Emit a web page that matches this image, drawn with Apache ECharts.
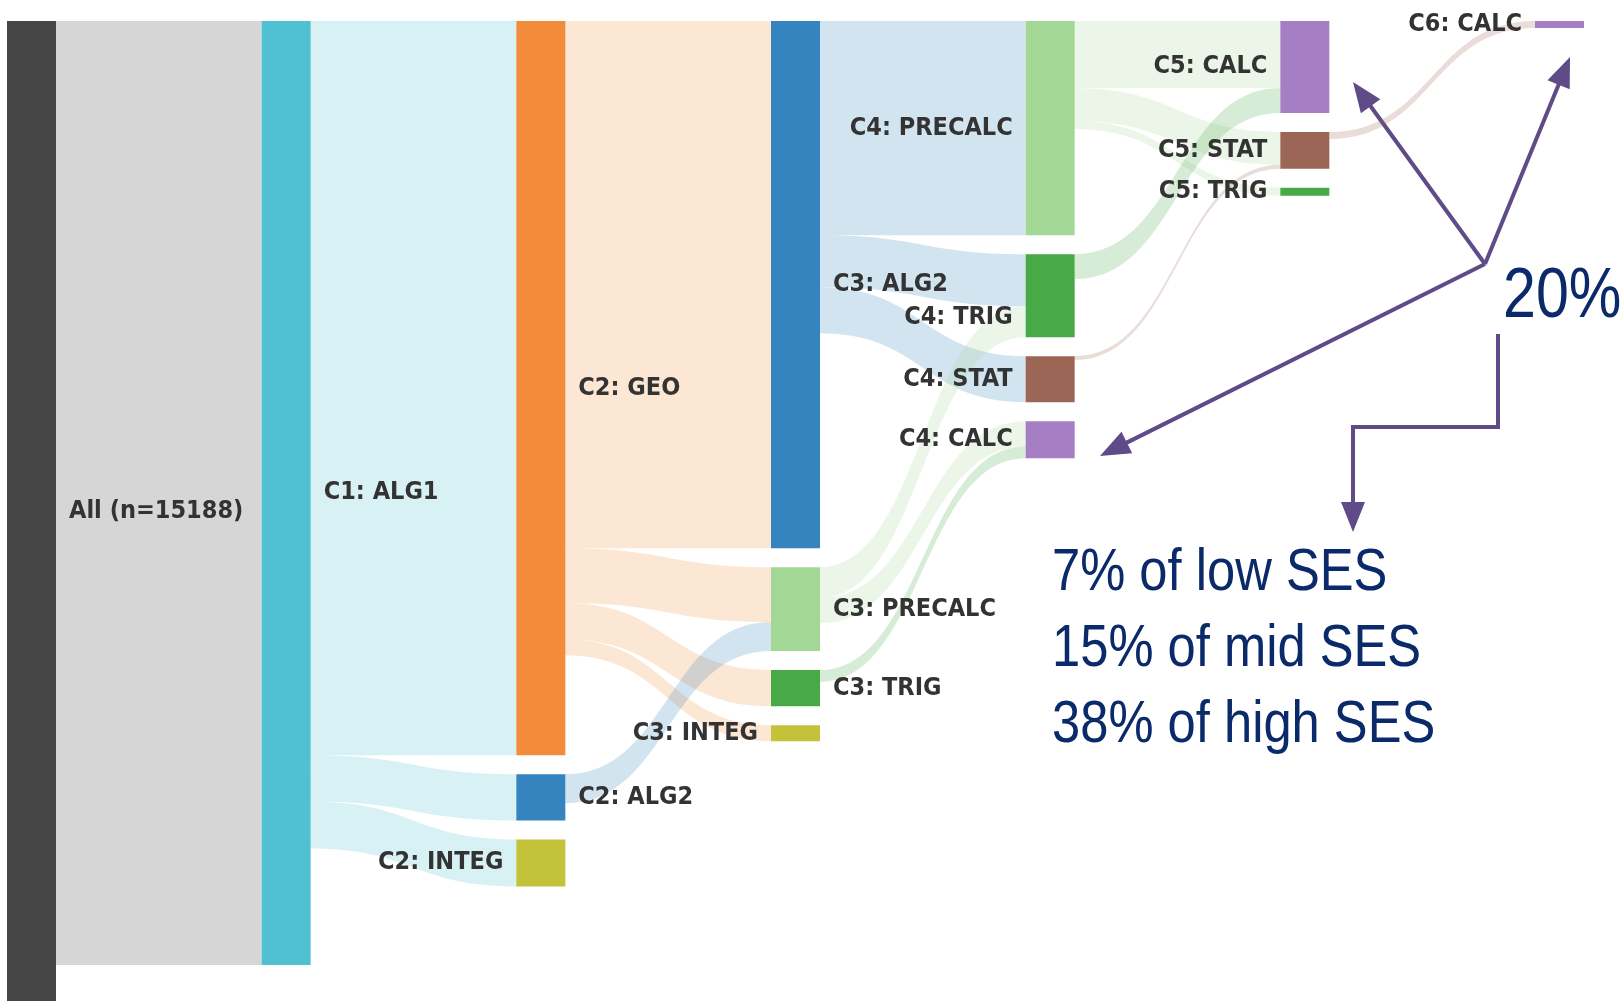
<!DOCTYPE html>
<html>
<head>
<meta charset="utf-8">
<script src="https://cdn.jsdelivr.net/npm/echarts@6/dist/echarts.min.js"></script>
<style>
  html, body { margin: 0; padding: 0; background: #ffffff; }
  #chart { width: 1623px; height: 1001px; }
</style>
</head>
<body>
<div id="chart"></div>
<script>
// ---------- data ----------
const cohortSize = 15188;
const nodeNames = [
  'All (n=15188)',
  'C1: ALG1',
  'C2: GEO', 'C2: ALG2', 'C2: INTEG',
  'C3: ALG2', 'C3: PRECALC', 'C3: TRIG', 'C3: INTEG',
  'C4: PRECALC', 'C4: TRIG', 'C4: STAT', 'C4: CALC',
  'C5: CALC', 'C5: STAT', 'C5: TRIG',
  'C6: CALC'
];
const linkSources = [
  'All (n=15188)',
  'C1: ALG1', 'C1: ALG1', 'C1: ALG1',
  'C2: GEO', 'C2: GEO', 'C2: GEO', 'C2: GEO', 'C2: ALG2',
  'C3: ALG2', 'C3: ALG2', 'C3: ALG2', 'C3: PRECALC', 'C3: PRECALC', 'C3: TRIG',
  'C4: PRECALC', 'C4: PRECALC', 'C4: PRECALC', 'C4: TRIG', 'C4: STAT',
  'C5: STAT'
];
const linkTargets = [
  'C1: ALG1',
  'C2: GEO', 'C2: ALG2', 'C2: INTEG',
  'C3: ALG2', 'C3: PRECALC', 'C3: TRIG', 'C3: INTEG', 'C3: PRECALC',
  'C4: PRECALC', 'C4: TRIG', 'C4: STAT', 'C4: TRIG', 'C4: CALC', 'C4: CALC',
  'C5: CALC', 'C5: STAT', 'C5: TRIG', 'C5: CALC', 'C5: STAT',
  'C6: CALC'
];
const linkValues = [
  14630,
  11380, 715, 730,
  8170, 850, 560, 250, 450,
  3320, 805, 715, 480, 390, 185,
  1040, 510, 125, 385, 60,
  110
];
const headline = '20%';
const sesLines = ['7% of low SES', '15% of mid SES', '38% of high SES'];

// ---------- styles ----------
const subjectColors = {
  All: '#454545',
  ALG1: '#4fc1d2',
  GEO: '#f28b3a',
  ALG2: '#3583bf',
  INTEG: '#c4c23a',
  PRECALC: '#a3d796',
  TRIG: '#48a947',
  STAT: '#9c6657',
  CALC: '#a67ec3'
};
const leftLabelNodes = ['C2: INTEG', 'C3: INTEG', 'C4: PRECALC', 'C4: TRIG', 'C4: STAT', 'C4: CALC',
  'C5: CALC', 'C5: STAT', 'C5: TRIG', 'C6: CALC'];
const labelShiftDown = { 'C4: TRIG': 22 };

function subjectOf(name) {
  const i = name.indexOf(': ');
  return i < 0 ? 'All' : name.slice(i + 2);
}

const nodes = nodeNames.map(function (name, i) {
  const item = {
    name: name,
    itemStyle: { color: subjectColors[subjectOf(name)], borderWidth: 0 },
    label: {
      position: leftLabelNodes.indexOf(name) >= 0 ? 'left' : 'right',
      offset: [0, labelShiftDown[name] || 0]
    }
  };
  if (i === 0) item.value = cohortSize;
  return item;
});
const links = linkValues.map(function (v, i) {
  return { source: linkSources[i], target: linkTargets[i], value: v };
});

// ---------- annotation helpers ----------
const ARROW = '#5e4b87';
const NAVY = '#0a2a6a';
function arrowHead(x0, y0, x1, y1) {
  const dx = x1 - x0, dy = y1 - y0;
  const len = Math.sqrt(dx * dx + dy * dy);
  const ux = dx / len, uy = dy / len;
  const hl = 30, hw = 12;
  const bx = x1 - ux * hl, by = y1 - uy * hl;
  return {
    type: 'polygon',
    shape: { points: [[x1, y1], [bx - uy * hw, by + ux * hw], [bx + uy * hw, by - ux * hw]] },
    style: { fill: ARROW }
  };
}
function arrowLine(x0, y0, x1, y1) {
  const dx = x1 - x0, dy = y1 - y0;
  const len = Math.sqrt(dx * dx + dy * dy);
  const ex = x1 - dx / len * 26, ey = y1 - dy / len * 26;
  return [
    { type: 'line', shape: { x1: x0, y1: y0, x2: ex, y2: ey }, style: { stroke: ARROW, lineWidth: 4 } },
    arrowHead(x0, y0, x1, y1)
  ];
}
const hub = [1485, 264];
const graphics = []
  .concat(arrowLine(hub[0], hub[1], 1353, 82))
  .concat(arrowLine(hub[0], hub[1], 1570, 57))
  .concat(arrowLine(hub[0], hub[1], 1100, 456))
  .concat([
    { type: 'polyline', shape: { points: [[1498, 334], [1498, 427], [1353, 427], [1353, 506]] },
      style: { stroke: ARROW, lineWidth: 4, fill: null } },
    arrowHead(1353, 427, 1353, 532),
    { type: 'text', x: 1503, y: 263, scaleX: 0.845,
      style: { text: headline, x: 0, y: 0, verticalAlign: 'top', fill: NAVY,
        font: '70px "Liberation Sans", Arial, sans-serif' } }
  ]);
sesLines.forEach(function (t, i) {
  graphics.push({ type: 'text', x: 1052, y: 543 + i * 76, scaleX: 0.845,
    style: { text: t, x: 0, y: 0, verticalAlign: 'top', fill: NAVY,
      font: '60px "Liberation Sans", Arial, sans-serif' } });
});

const chart = echarts.init(document.getElementById('chart'), null, { renderer: 'canvas' });
chart.setOption({
  backgroundColor: '#ffffff',
  animation: false,
  series: [{
    type: 'sankey',
    left: 7, right: 39, top: 21, bottom: 0,
    nodeWidth: 49,
    nodeGap: 19,
    nodeAlign: 'left',
    layoutIterations: 0,
    draggable: false,
    emphasis: { disabled: true },
    data: nodes,
    links: links,
    label: {
      show: true,
      distance: 13,
      color: '#333333',
      fontWeight: 'bold',
      fontSize: 25,
      fontFamily: '"DejaVu Sans Condensed", "Liberation Sans Narrow", sans-serif'
    },
    lineStyle: { color: 'source', opacity: 0.22, curveness: 0.5 }
  }],
  graphic: graphics
});
</script>
</body>
</html>
